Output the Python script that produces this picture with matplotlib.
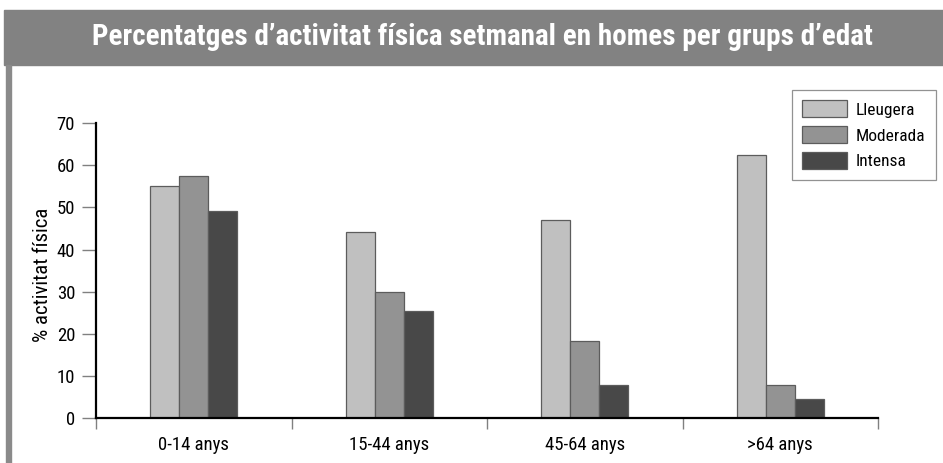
import numpy as np
import matplotlib.pyplot as plt
from matplotlib import patches
from matplotlib.ticker import FixedLocator

plt.rcParams['font.family'] = ['Roboto Condensed', 'DejaVu Sans']

groups = ['0-14 anys', '15-44 anys', '45-64 anys', '>64 anys']
series = ['Lleugera', 'Moderada', 'Intensa']
lleugera = [55.1, 44.2, 47.1, 62.4]
moderada = [57.6, 30.0, 18.2, 7.9]
intensa = [49.2, 25.3, 7.9, 4.5]
colors = ['#c0c0c0', '#939393', '#484848']

fig = plt.figure(figsize=(9.43, 4.63), dpi=100)

# grey title band and left border
fig.patches.append(patches.Rectangle((4 / 943, 1 - 65 / 463), 1, 55 / 463,
                                     transform=fig.transFigure, color='#828282', zorder=0))
fig.patches.append(patches.Rectangle((6 / 943, 0), 5 / 943, 1 - 65 / 463,
                                     transform=fig.transFigure, color='#8a8a8a', zorder=0))
fig.text(0.512, 1 - 37 / 463, 'Percentatges d\u2019activitat física setmanal en homes per grups d\u2019edat',
         color='white', fontsize=21, fontweight='bold', ha='center', va='center')

ax = fig.add_axes([96 / 943, 45 / 463, 782 / 943, 294.7 / 463])
x = np.arange(len(groups))
w = 0.148
for i, (vals, name) in enumerate(zip([lleugera, moderada, intensa], series)):
    ax.bar(x + (i - 1) * w, vals, w, color=colors[i], edgecolor='#5c5c5c',
           linewidth=0.9, label=name, zorder=2)

ax.set_xlim(-0.5, 3.5)
ax.set_ylim(0, 70)
ax.set_yticks(range(0, 71, 10))
ax.set_xticks(x)
ax.set_xticklabels(groups, fontsize=13.5)
ax.xaxis.set_minor_locator(FixedLocator(np.arange(-0.5, 3.6, 1)))
ax.tick_params(axis='x', which='major', length=0, pad=13)
ax.tick_params(axis='x', which='minor', length=8, width=1, color='#808080')
ax.tick_params(axis='y', length=10, width=1, color='#808080', labelsize=13.5, pad=5)
for s in ['top', 'right']:
    ax.spines[s].set_visible(False)
for s in ['left', 'bottom']:
    ax.spines[s].set_linewidth(1.6)
ax.set_ylabel('% activitat física', fontsize=15)
ax.yaxis.set_label_coords(-54 / 782, 0.485)
ax.yaxis.label.set_verticalalignment('center')

leg = ax.legend(loc='upper right', bbox_to_anchor=(936 / 943, 1 - 90 / 463),
                bbox_transform=fig.transFigure, fancybox=False, fontsize=12.5,
                handlelength=2.6, handleheight=1.1, labelspacing=0.5,
                borderpad=0.6, handletextpad=0.5, edgecolor='#777777', borderaxespad=0)
leg.get_frame().set_linewidth(0.9)

fig.savefig('out.png', dpi=100)
